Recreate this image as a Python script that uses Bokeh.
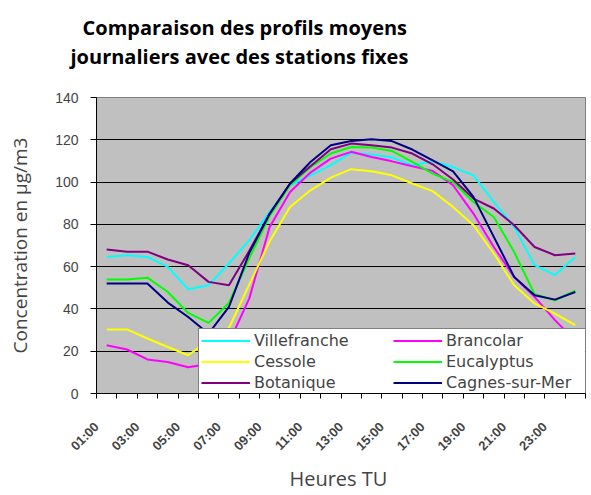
from math import pi
from bokeh.plotting import figure
from bokeh.models import Range1d, FixedTicker, Legend, LegendItem, Title
from bokeh.embed import file_html
from bokeh.resources import INLINE

hours = ["%02d:00" % h for h in range(1, 25)]
villefranche = [64.6, 65.4, 64.6, 59.9, 49.3, 51.2, 61.5, 72.5, 85.9, 98.5, 103.2, 108.0,
                113.8, 113.1, 111.6, 108.0, 109.8, 107.1, 103.2, 90.6, 78.8, 60.7, 56.0, 64.6]
brancolar = [22.8, 20.8, 16.1, 14.9, 12.4, 14.0, 24.0, 45.0, 78.8, 95.3, 104.5, 111.1,
             114.3, 111.9, 109.8, 107.5, 105.3, 98.5, 85.1, 69.3, 55.1, 45.7, 34.7, 25.0]
cessole = [30.3, 30.3, 26.0, 22.0, 18.1, 25.0, 31.0, 51.6, 72.0, 88.2, 96.1, 102.1,
           106.1, 105.1, 103.2, 99.3, 95.7, 88.2, 79.6, 66.2, 51.2, 42.6, 37.8, 32.3]
eucalyptus = [53.9, 53.9, 54.8, 48.0, 38.1, 33.4, 42.8, 64.0, 84.0, 98.5, 107.0, 113.5,
              116.6, 116.3, 114.7, 109.5, 104.0, 100.0, 90.6, 83.5, 66.9, 47.0, 44.1, 48.6]
botanique = [68.1, 67.1, 67.1, 63.4, 60.7, 52.8, 51.2, 67.5, 85.1, 99.3, 107.5, 115.5,
             118.2, 117.4, 116.3, 113.5, 108.4, 101.2, 92.2, 87.5, 79.6, 69.3, 65.4, 66.2]
cagnes = [52.0, 52.0, 52.0, 43.0, 36.2, 28.3, 41.0, 66.5, 85.0, 99.3, 109.5, 117.4,
          119.4, 120.2, 119.4, 115.4, 110.3, 105.1, 93.0, 74.1, 55.1, 46.5, 44.4, 48.0]

series_names = ["Villefranche", "Brancolar", "Cessole", "Eucalyptus", "Botanique", "Cagnes-sur-Mer"]
series_values = [villefranche, brancolar, cessole, eucalyptus, botanique, cagnes]
series_colors = ["#00FFFF", "#FF00FF", "#FFFF00", "#00FF00", "#800080", "#000080"]
y_ticks = [0, 20, 40, 60, 80, 100, 120, 140]

xs = [i + 0.5 for i in range(len(hours))]

p = figure(width=591, height=495, output_backend="svg", toolbar_location=None,
           x_range=Range1d(0, len(hours)), y_range=Range1d(0, 140),
           min_border_left=96, min_border_right=6, min_border_top=97, min_border_bottom=102,
           background_fill_color="#C0C0C0", border_fill_color="white",
           outline_line_color="#808080", outline_line_width=1)

title_font = "Open Sans"
t2 = Title(text="journaliers avec des stations fixes", align="left", offset=-26,
           text_font=title_font, text_font_size="20px", text_font_style="bold",
           text_color="black", standoff=56)
t1 = Title(text="Comparaison des profils moyens", align="left", offset=-14,
           text_font=title_font, text_font_size="20px", text_font_style="bold",
           text_color="black", standoff=-56)
p.add_layout(t2, "above")
p.add_layout(t1, "above")

p.xgrid.visible = False
p.ygrid.ticker = FixedTicker(ticks=y_ticks[1:-1])
p.ygrid.grid_line_color = "black"
p.ygrid.grid_line_width = 1

xa = p.xaxis[0]
xa.ticker = FixedTicker(ticks=list(range(len(hours) + 1)))
overrides = {i: (hours[i] if i % 2 == 0 else "") for i in range(len(hours))}
overrides[len(hours)] = ""
xa.major_label_overrides = overrides
xa.major_label_orientation = pi / 4
xa.major_label_text_font = "Liberation Sans"
xa.major_label_text_font_size = "13px"
xa.major_label_text_font_style = "bold"
xa.major_label_standoff = 26
xa.major_tick_out = 5
xa.major_tick_in = 0
xa.minor_tick_out = 0
xa.minor_tick_in = 0
xa.axis_line_color = "black"
xa.major_tick_line_color = "black"
xa.axis_label = "Heures  TU"
xa.axis_label_text_font = title_font
xa.axis_label_text_font_size = "20px"
xa.axis_label_text_font_style = "normal"
xa.axis_label_standoff = 3

ya = p.yaxis[0]
ya.ticker = FixedTicker(ticks=y_ticks)
ya.major_label_text_font = "Liberation Sans"
ya.major_label_text_font_size = "14px"
ya.major_label_standoff = 12
ya.major_tick_out = 6
ya.major_tick_in = 0
ya.minor_tick_out = 0
ya.minor_tick_in = 0
ya.axis_line_color = "black"
ya.major_tick_line_color = "black"
ya.axis_label = "Concentration en µg/m3"
ya.axis_label_text_font = title_font
ya.axis_label_text_font_size = "19px"
ya.axis_label_text_font_style = "normal"
ya.axis_label_standoff = 19

items = []
for name, vals, col in zip(series_names, series_values, series_colors):
    r = p.line(xs, vals, line_color=col, line_width=2)
    items.append(LegendItem(label=name, renderers=[r]))

legend = Legend(items=items, location=(102, -2), orientation="horizontal", ncols=2,
                glyph_width=49, glyph_height=19, label_height=19, label_width=137,
                label_standoff=4, spacing=2, padding=2, margin=0,
                label_text_font="DejaVu Sans", label_text_font_size="16px",
                border_line_color="black", border_line_width=1,
                background_fill_color="white", background_fill_alpha=1.0)
p.add_layout(legend, "center")

open("out.html", "w").write(file_html(p, INLINE))
